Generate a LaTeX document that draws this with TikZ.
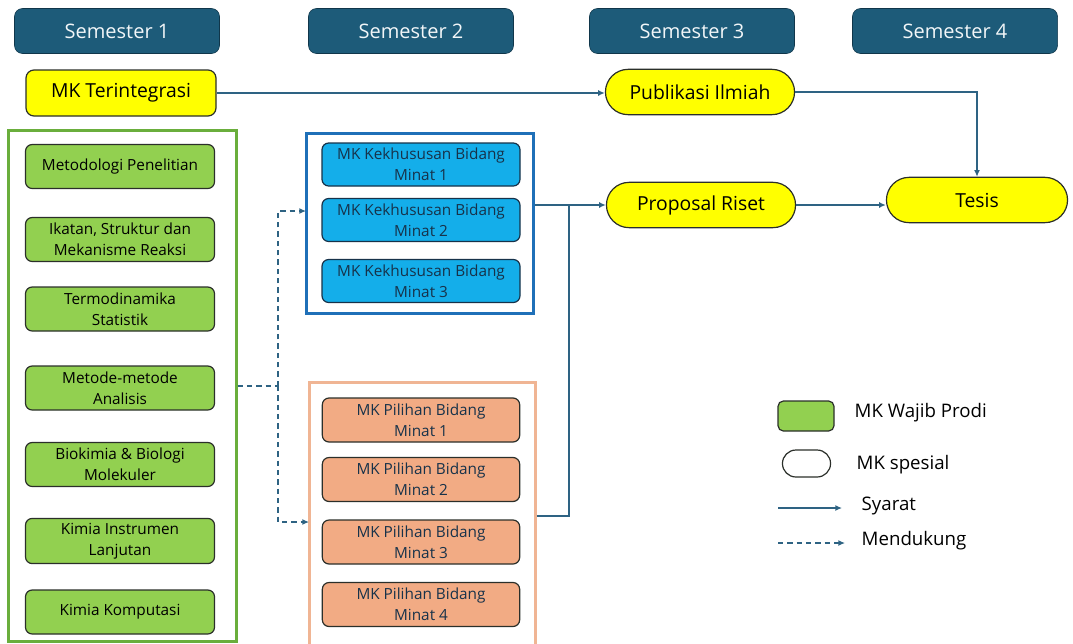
\documentclass[tikz,border=0pt]{standalone}
\usepackage{fontspec}
\setmainfont{Open Sans}
\usepackage{tikz}
\usetikzlibrary{positioning, arrows.meta, shapes.misc}
\definecolor{HeadTeal}{HTML}{1D5B79}
\definecolor{HeadDark}{HTML}{10364A}
\definecolor{HeadText}{HTML}{F2F6F8}
\definecolor{SpecYellow}{HTML}{FFFF00}
\definecolor{EdgeDark}{HTML}{2B2F2A}
\definecolor{WajibGreen}{HTML}{92D050}
\definecolor{WajibFrame}{HTML}{6AAE3C}
\definecolor{KhususBlue}{HTML}{14AEEA}
\definecolor{KhususFrame}{HTML}{1F70B8}
\definecolor{KhususText}{HTML}{17324A}
\definecolor{PilihOrange}{HTML}{F2AB84}
\definecolor{PilihFrame}{HTML}{F0B594}
\definecolor{ArrowTeal}{HTML}{2E6383}

\tikzset{
    semhead/.style={draw=HeadDark, fill=HeadTeal, rounded corners=6pt,
        minimum width=153.75pt, minimum height=33.75pt, text=HeadText,
        font=\fontsize{15}{17}\selectfont},
    spesial/.style={draw=EdgeDark, fill=SpecYellow, rounded rectangle,
        line width=0.9pt, minimum height=34pt, font=\fontsize{14.5}{17}\selectfont},
    wajib/.style={draw=EdgeDark, fill=WajibGreen, rounded corners=5pt,
        line width=0.9pt, minimum width=141.75pt, minimum height=33pt,
        align=center, font=\fontsize{11.5}{16}\selectfont},
    khusus/.style={draw=KhususText, fill=KhususBlue, rounded corners=5pt,
        line width=0.9pt, minimum width=148.5pt, minimum height=32.25pt,
        align=center, text=KhususText, font=\fontsize{11.5}{16}\selectfont},
    pilih/.style={draw=EdgeDark, fill=PilihOrange, rounded corners=5pt,
        line width=0.9pt, minimum width=148pt, minimum height=33pt,
        align=center, text=KhususText, font=\fontsize{11.5}{16}\selectfont},
    kelompok/.style={line width=2.25pt, inner sep=0pt},
    syarat/.style={draw=ArrowTeal, line width=1.1pt, -{Latex[length=5pt,width=4.5pt]}},
    mendukung/.style={draw=ArrowTeal, line width=1.1pt, dash pattern=on 4pt off 3pt},
    legendtext/.style={anchor=west, font=\fontsize{14}{17}\selectfont}
}

\begin{document}
\begin{tikzpicture}[x=0.75pt, y=-0.75pt]
\useasboundingbox (0,0) rectangle (1073,643);

% semester headers
\node[semhead] (sem1) at (117,31) {Semester 1};
\node[semhead] (sem2) at (411,31) {Semester 2};
\node[semhead] (sem3) at (692,31) {Semester 3};
\node[semhead] (sem4) at (955,31) {Semester 4};

% special courses
\node[draw=EdgeDark, fill=SpecYellow, rounded corners=6pt, line width=0.9pt,
    minimum width=142.5pt, minimum height=34.5pt,
    font=\fontsize{14.5}{17}\selectfont] (terint) at (121,93) {MK Terintegrasi};
\node[spesial, minimum width=148.5pt] (pub) at (700,92) {Publikasi Ilmiah};
\node[spesial, minimum width=148.5pt] (prop) at (701,205) {Proposal Riset};
\node[spesial, minimum width=142.5pt] (tesis) at (977,200) {Tesis};

% group frames
\node[kelompok, draw=WajibFrame, minimum width=171pt, minimum height=383.25pt] (wajibbox) at (122,385.5) {};
\node[kelompok, draw=KhususFrame, minimum width=170.25pt, minimum height=135pt] (kbox) at (419.5,223) {};
\node[kelompok, draw=PilihFrame, minimum width=169.5pt, minimum height=201pt] (pbox) at (422,516) {};

% MK wajib prodi
\node[wajib] (w1) at (120,166.5) {Metodologi Penelitian};
\node[wajib] (w2) at (120,239.5) {Ikatan, Struktur dan\\Mekanisme Reaksi};
\node[wajib] (w3) at (120,309) {Termodinamika\\Statistik};
\node[wajib] (w4) at (120,388) {Metode-metode\\Analisis};
\node[wajib] (w5) at (120,464.5) {Biokimia \& Biologi\\Molekuler};
\node[wajib] (w6) at (120,541) {Kimia Instrumen\\Lanjutan};
\node[wajib] (w7) at (120,612) {Kimia Komputasi};

% MK kekhususan
\foreach \i/\y in {1/164.5, 2/220, 3/281}
    \node[khusus] (k\i) at (421,\y) {MK Kekhususan Bidang\\Minat \i};

% MK pilihan
\foreach \i/\y in {1/420, 2/479.5, 3/542, 4/604.5}
    \node[pilih] (p\i) at (421,\y) {MK Pilihan Bidang\\Minat \i};

% connectors
\coordinate (split) at (278,386);
\coordinate (kin) at (306,211);
\coordinate (pin) at (309,522);
\coordinate (join) at (569,205);
\draw[mendukung] (wajibbox.east |- split) -- (split);
\draw[mendukung, -{Latex[length=5pt,width=4.5pt]}] (split) |- (kin);
\draw[mendukung, -{Latex[length=5pt,width=4.5pt]}] (split) |- (pin);
\draw[syarat] (terint.east) -- (terint.east -| pub.west);
\draw[syarat] (pub.east) -| (tesis.north);
\draw[syarat] (kbox.east |- prop) -- (prop.west);
\draw[draw=ArrowTeal, line width=1.1pt] (pbox.east) -| (join);
\draw[syarat] (prop.east) -- (prop.east -| tesis.west);

% legend
\node[draw=EdgeDark, fill=WajibGreen, rounded corners=4pt, line width=0.9pt,
    minimum width=42pt, minimum height=22.5pt] (lgwajib) at (806,416) {};
\node[draw=EdgeDark, rounded rectangle, line width=0.9pt,
    minimum width=42.75pt, minimum height=20.25pt] (lgspesial) at (806.5,463.5) {};
\coordinate (lgs1) at (778,508);
\coordinate (lgs2) at (842,508);
\coordinate (lgm1) at (778,543);
\coordinate (lgm2) at (845,543);
\draw[syarat] (lgs1) -- (lgs2);
\draw[mendukung, -{Latex[length=5pt,width=4.5pt]}] (lgm1) -- (lgm2);
\node[legendtext] (lgt1) at (850,413) {MK Wajib Prodi};
\node[legendtext] (lgt2) at (852,465) {MK spesial};
\node[legendtext] (lgt3) at (857,506) {Syarat};
\node[legendtext] (lgt4) at (857,541) {Mendukung};
\end{tikzpicture}
\end{document}
